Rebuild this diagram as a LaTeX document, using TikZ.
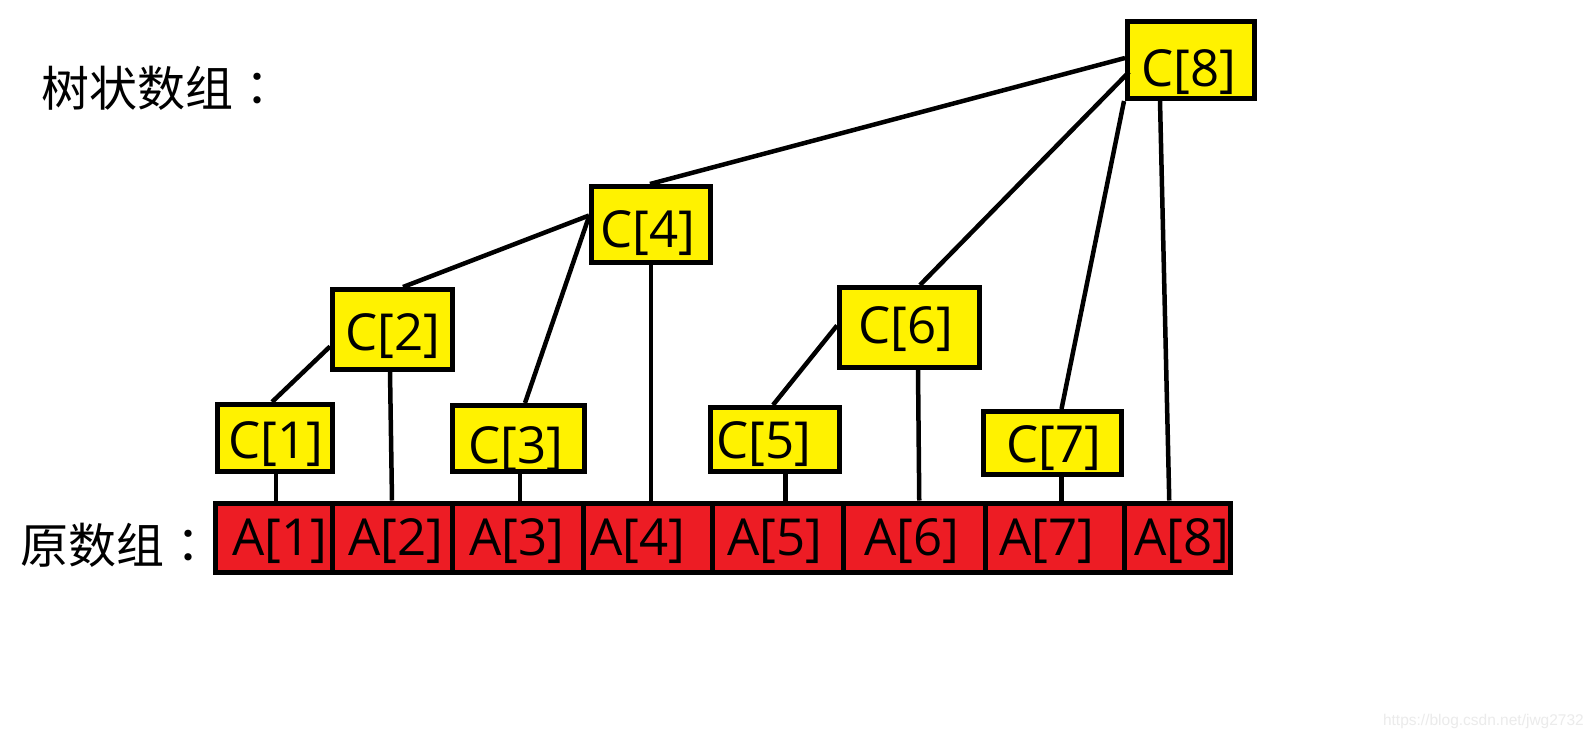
\documentclass[tikz,border=0pt]{standalone}
\usepackage{fontspec}
\setmainfont{Open Sans}
\newfontfamily\cjkfont{Noto Sans CJK SC}
\newfontfamily\cjktc{Noto Sans CJK TC}
\newfontfamily\wmfont{Liberation Sans}
\usetikzlibrary{calc}
\definecolor{pyellow}{HTML}{FFF200}
\definecolor{pred}{HTML}{ED1C24}
\tikzset{
  cbox/.style={draw=black, line width=5pt, fill=pyellow, rectangle, inner sep=0pt},
  abox/.style={draw=black, line width=5pt, fill=pred, rectangle, inner sep=0pt, minimum height=69.5pt},
  lbl/.style={anchor=base, inner sep=0pt, font=\fontsize{51}{60}\selectfont},
  conn/.style={draw=black, line width=4.5pt},
  cjk/.style={inner sep=0pt, font=\cjkfont\fontsize{48}{56}\selectfont}
}
\begin{document}
\begin{tikzpicture}[x=1pt,y=-1pt]
\useasboundingbox (0,0) rectangle (1594,737);
\fill[white] (0,0) rectangle (1594,737);

% titles
\node[cjk] (t1) at (161,88.5) {树状数组{\cjktc ：}};
\node[cjk] (t2) at (116,545.5) {原数组{\cjktc ：}};

% A row
\node[abox, minimum width=117pt] (a1) at (273.5,537.75) {};
\node[abox, minimum width=120pt] (a2) at (392,537.75) {};
\node[abox, minimum width=131pt] (a3) at (517.5,537.75) {};
\node[abox, minimum width=129pt] (a4) at (647.5,537.75) {};
\node[abox, minimum width=131pt] (a5) at (777.5,537.75) {};
\node[abox, minimum width=142.5pt] (a6) at (914.25,537.75) {};
\node[abox, minimum width=139pt] (a7) at (1055,537.75) {};
\node[abox, minimum width=105.5pt] (a8) at (1177.25,537.75) {};
\node[lbl] (a1t) at (280,555) {A[1]};
\node[lbl] (a2t) at (395.5,555) {A[2]};
\node[lbl] (a3t) at (517,555) {A[3]};
\node[lbl] (a4t) at (638,555) {A[4]};
\node[lbl] (a5t) at (775,555) {A[5]};
\node[lbl] (a6t) at (911.5,555) {A[6]};
\node[lbl] (a7t) at (1046.5,555) {A[7]};
\node[lbl] (a8t) at (1182,555) {A[8]};

% C boxes
\node[cbox, minimum width=115pt, minimum height=67pt] (c1) at (275,438) {};
\node[cbox, minimum width=120pt, minimum height=80pt] (c2) at (392.5,329.5) {};
\node[cbox, minimum width=132pt, minimum height=66pt] (c3) at (518.5,438.5) {};
\node[cbox, minimum width=119pt, minimum height=76pt] (c4) at (651,224.5) {};
\node[cbox, minimum width=129pt, minimum height=64pt] (c5) at (775,439.5) {};
\node[cbox, minimum width=140pt, minimum height=80pt] (c6) at (909.5,327.5) {};
\node[cbox, minimum width=138pt, minimum height=63pt] (c7) at (1052.5,443) {};
\node[cbox, minimum width=127pt, minimum height=77pt] (c8) at (1191,60) {};
\node[lbl] (c1t) at (275.5,458) {C[1]};
\node[lbl] (c2t) at (392.5,350) {C[2]};
\node[lbl] (c3t) at (516,463) {C[3]};
\node[lbl] (c4t) at (648,247) {C[4]};
\node[lbl] (c5t) at (764,458) {C[5]};
\node[lbl] (c6t) at (905.5,343) {C[6]};
\node[lbl] (c7t) at (1054,462) {C[7]};
\node[lbl] (c8t) at (1188.5,86) {C[8]};

% connectors
\draw[conn] ([xshift=-3pt]c1.north) -- ([yshift=-17pt]c2.west);
\draw[conn] ([xshift=1pt]c1.south) -- ([xshift=1pt]c1.south |- a1.north);
\draw[conn] ([xshift=-2.5pt]c2.south) -- (a2.north);
\draw[conn] ([xshift=10.5pt]c2.north) -- ([yshift=9pt]c4.west);
\draw[conn] ([xshift=6.5pt]c3.north) -- ([yshift=8pt]c4.west);
\draw[conn] ([xshift=1.5pt]c3.south) -- ([xshift=1.5pt]c3.south |- a3.north);
\draw[conn] (c4.south) -- (c4.south |- a4.north);
\draw[conn] ([xshift=-1pt]c4.north) -- ([yshift=2pt]c8.west);
\draw[conn] ([xshift=4pt,yshift=-12pt]c8.west) -- ([xshift=10.5pt]c6.north);
\draw[conn] ([xshift=-2pt]c5.north) -- ([yshift=2pt]c6.west);
\draw[conn] ([xshift=10.5pt]c5.south) -- ([xshift=10.5pt]c5.south |- a5.north);
\draw[conn] ([xshift=8.5pt]c6.south) -- ([xshift=5pt]a6.north);
\draw[conn] ([xshift=9pt]c7.north) -- ([xshift=-1pt]c8.south west);
\draw[conn] ([xshift=9pt]c7.south) -- ([xshift=9pt]c7.south |- a7.north);
\draw[conn] ([xshift=-31pt]c8.south) -- ([xshift=-8pt]a8.north);

% watermark
\node[anchor=base east, inner sep=0pt, text=black!8, font=\wmfont\fontsize{15.5}{18}\selectfont] (wm) at (1584,725) {https://blog.csdn.net/jwg2732};
\end{tikzpicture}
\end{document}
